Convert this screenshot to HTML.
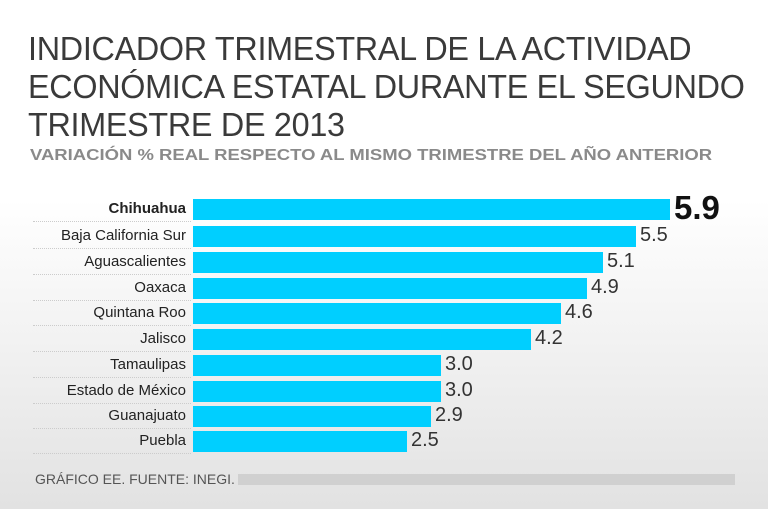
<!DOCTYPE html>
<html><head><meta charset="utf-8"><style>
body{margin:0;width:768px;height:509px;overflow:hidden;background:linear-gradient(#fff 0,#fff 200px,#e2e2e2 509px);font-family:"Liberation Sans",sans-serif;position:relative}
.t{position:absolute;left:28px;top:30px;font-size:33px;line-height:38px;color:#3a3a3a;letter-spacing:-0.3px;transform:scaleX(0.98);transform-origin:left;white-space:nowrap}
.s{position:absolute;left:30px;top:147px;font-size:16px;font-weight:bold;color:#8a8a8a;white-space:nowrap;transform:scaleX(1.155);transform-origin:left}
.r{position:absolute;left:0;height:26px;width:768px}
.l{position:absolute;right:582px;top:3px;font-size:15px;color:#222;white-space:nowrap}
.d{position:absolute;left:33px;width:158px;top:24px;border-top:1px dotted #ccc}
.b{position:absolute;left:193px;top:2px;height:21px;background:#00cfff}
.v{position:absolute;top:0px;font-size:20px;color:#333}
.f{position:absolute;left:35px;top:471px;font-size:14px;color:#555}
.g{position:absolute;left:238px;top:474px;width:497px;height:11px;background:#d0d0d0}
</style></head><body>
<div class="t">INDICADOR TRIMESTRAL DE LA ACTIVIDAD<br>ECONÓMICA ESTATAL DURANTE EL SEGUNDO<br>TRIMESTRE DE 2013</div>
<div class="s">VARIACIÓN % REAL RESPECTO AL MISMO TRIMESTRE DEL AÑO ANTERIOR</div>
<div class="r" style="top:197px"><div class="l" style="font-weight:bold">Chihuahua</div><div class="d"></div><div class="b" style="width:477px"></div><div class="v" style="left:674px;top:-8px;font-size:33px;font-weight:bold;color:#111">5.9</div></div>
<div class="r" style="top:224px"><div class="l">Baja California Sur</div><div class="d"></div><div class="b" style="width:443px"></div><div class="v" style="left:640px">5.5</div></div>
<div class="r" style="top:250px"><div class="l">Aguascalientes</div><div class="d"></div><div class="b" style="width:410px"></div><div class="v" style="left:607px">5.1</div></div>
<div class="r" style="top:276px"><div class="l">Oaxaca</div><div class="d"></div><div class="b" style="width:394px"></div><div class="v" style="left:591px">4.9</div></div>
<div class="r" style="top:301px"><div class="l">Quintana Roo</div><div class="d"></div><div class="b" style="width:368px"></div><div class="v" style="left:565px">4.6</div></div>
<div class="r" style="top:327px"><div class="l">Jalisco</div><div class="d"></div><div class="b" style="width:338px"></div><div class="v" style="left:535px">4.2</div></div>
<div class="r" style="top:353px"><div class="l">Tamaulipas</div><div class="d"></div><div class="b" style="width:248px"></div><div class="v" style="left:445px">3.0</div></div>
<div class="r" style="top:379px"><div class="l">Estado de México</div><div class="d"></div><div class="b" style="width:248px"></div><div class="v" style="left:445px">3.0</div></div>
<div class="r" style="top:404px"><div class="l">Guanajuato</div><div class="d"></div><div class="b" style="width:238px"></div><div class="v" style="left:435px">2.9</div></div>
<div class="r" style="top:429px"><div class="l">Puebla</div><div class="d"></div><div class="b" style="width:214px"></div><div class="v" style="left:411px">2.5</div></div>
<div class="f">GRÁFICO EE. FUENTE: INEGI.</div><div class="g"></div>
</body></html>
